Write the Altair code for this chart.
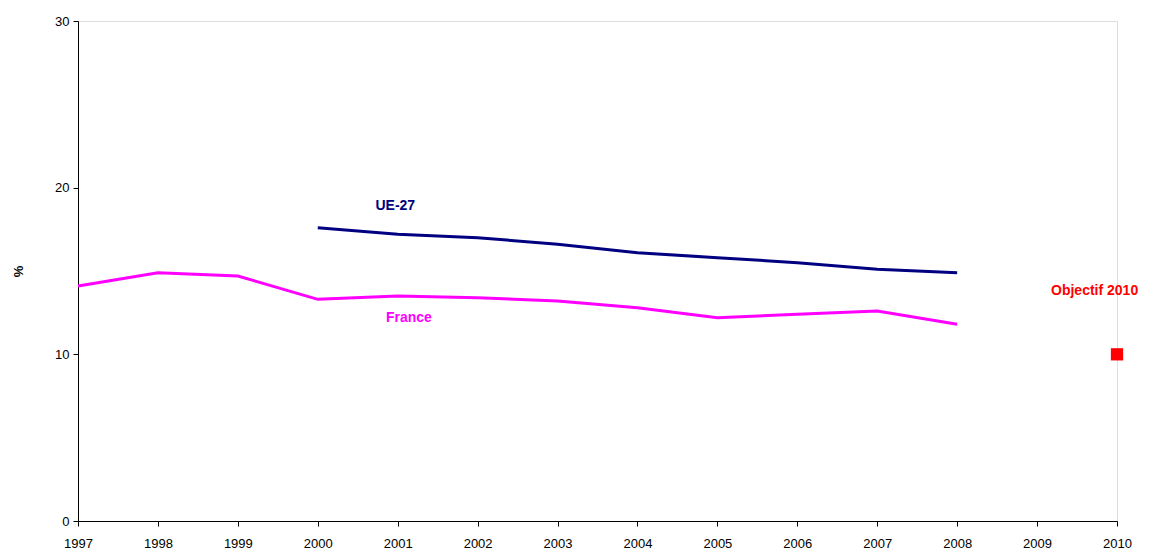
import altair as alt
import pandas as pd

years_fr = [1997, 1998, 1999, 2000, 2001, 2002, 2003, 2004, 2005, 2006, 2007, 2008]
france = [14.1, 14.9, 14.7, 13.3, 13.5, 13.4, 13.2, 12.8, 12.2, 12.4, 12.6, 11.8]
years_ue = [2000, 2001, 2002, 2003, 2004, 2005, 2006, 2007, 2008]
ue27 = [17.6, 17.2, 17.0, 16.6, 16.1, 15.8, 15.5, 15.1, 14.9]
target_year = [2010]
target_val = [10]

label_text = ["UE-27", "France", "Objectif 2010"]
label_x = [2000.97, 2001.14, 2009.72]
label_y = [18.9, 12.2, 13.8]
label_color = ["#000080", "#FF00FF", "#FF0000"]

df_fr = pd.DataFrame({"year": years_fr, "val": france})
df_ue = pd.DataFrame({"year": years_ue, "val": ue27})
df_t = pd.DataFrame({"year": target_year, "val": target_val})
df_l = pd.DataFrame({"year": label_x, "val": label_y, "text": label_text, "color": label_color})

xs = alt.Scale(domain=[1997, 2010], nice=False, zero=False)
ys = alt.Scale(domain=[0, 30], nice=False)
xax = alt.Axis(values=list(range(1997, 2011)), format="d", title=None, grid=False,
               labelFontSize=13, labelColor="#000", tickColor="#000", domainColor="#000",
               tickSize=5, labelPadding=11, labelFont="Liberation Sans", labelFlush=False)
yax = alt.Axis(values=[0, 10, 20, 30], title="%", grid=False, labelFontSize=13,
               labelColor="#000", tickColor="#000", domainColor="#000", tickSize=5,
               labelFont="Liberation Sans", titleFont="Liberation Sans", titleFontSize=13,
               titleFontWeight="bold", titlePadding=29, labelPadding=4)

X = alt.X("year:Q", scale=xs, axis=xax)
Y = alt.Y("val:Q", scale=ys, axis=yax)

fr = alt.Chart(df_fr).mark_line(color="#FF00FF", strokeWidth=3).encode(x=X, y=Y)
ue = alt.Chart(df_ue).mark_line(color="#000080", strokeWidth=3).encode(x=X, y=Y)
tg = alt.Chart(df_t).mark_square(color="#FF0000", size=150, opacity=1).encode(x=X, y=Y)
lb = alt.Chart(df_l).mark_text(fontWeight="bold", fontSize=14, font="Liberation Sans").encode(
    x=X, y=Y, text="text:N", color=alt.Color("color:N", scale=None))

chart = alt.layer(fr, ue, tg, lb).properties(
    width=1039, height=500,
    autosize=alt.AutoSizeParams(type="none"),
    padding={"left": 70, "top": 13, "right": 27, "bottom": 28},
).configure_view(stroke=None).configure(background="white")

chart.save("out.html", embed_options={"renderer": "svg", "actions": False})
